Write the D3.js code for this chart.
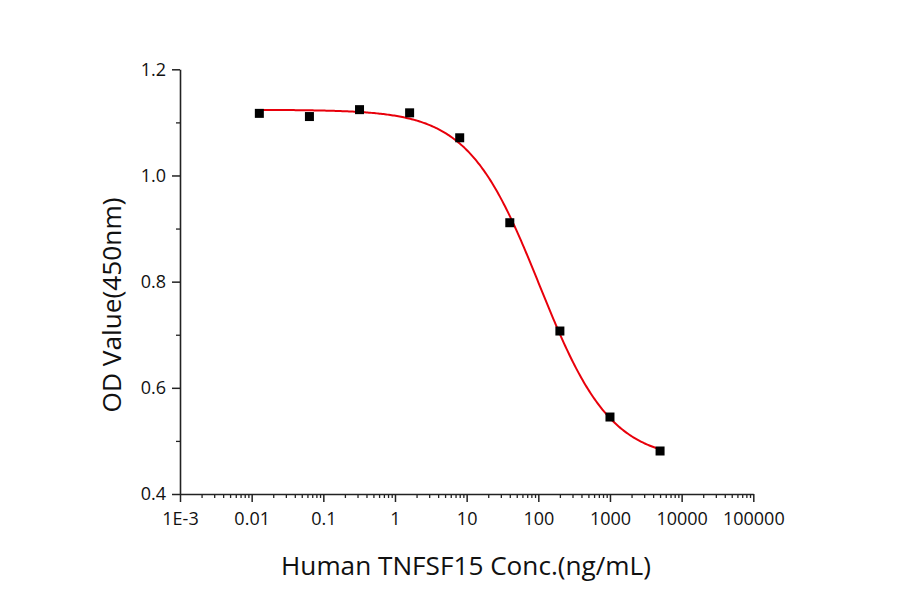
<!DOCTYPE html>
<html>
<head>
<meta charset="utf-8">
<script src="https://cdn.jsdelivr.net/npm/d3@7"></script>
<style>
  html, body { margin: 0; padding: 0; background: #fff; }
  svg { display: block; font-family: "Open Sans", sans-serif; }
</style>
</head>
<body>
<svg id="chart" width="900" height="594"></svg>
<script>
// ---- data ----
const concentrations = [0.0128, 0.064, 0.32, 1.6, 8, 40, 200, 1000, 5000];
const odValues       = [1.117, 1.111, 1.124, 1.118, 1.071, 0.911, 0.707, 0.545, 0.481];
const xMajorTicks    = [1e-3, 1e-2, 1e-1, 1, 10, 100, 1000, 10000, 100000];
const xTickLabels    = ["1E-3", "0.01", "0.1", "1", "10", "100", "1000", "10000", "100000"];
const yMajorTicks    = [0.4, 0.6, 0.8, 1.0, 1.2];
const yMinorTicks    = [0.5, 0.7, 0.9, 1.1];
const xTitle = "Human TNFSF15 Conc.(ng/mL)";
const yTitle = "OD Value(450nm)";

// ---- 4-parameter logistic fit (least squares, Nelder-Mead) ----
function model(p, x) { return p[1] + (p[0] - p[1]) / (1 + Math.pow(x / Math.pow(10, p[2]), p[3])); }
function sse(p) {
  let s = 0;
  for (let i = 0; i < concentrations.length; i++) {
    const r = model(p, concentrations[i]) - odValues[i];
    s += r * r;
  }
  return s;
}
function nelderMead(f, x0, steps, iters) {
  const n = x0.length;
  let simplex = [x0.slice()];
  for (let i = 0; i < n; i++) { const v = x0.slice(); v[i] += steps[i]; simplex.push(v); }
  let vals = simplex.map(f);
  for (let k = 0; k < iters; k++) {
    const idx = d3.range(n + 1).sort((a, b) => vals[a] - vals[b]);
    simplex = idx.map(i => simplex[i]); vals = idx.map(i => vals[i]);
    const c = d3.range(n).map(j => d3.mean(simplex.slice(0, n), v => v[j]));
    const worst = simplex[n];
    const xr = c.map((cj, j) => cj + (cj - worst[j]));
    const fr = f(xr);
    if (fr < vals[0]) {
      const xe = c.map((cj, j) => cj + 2 * (cj - worst[j]));
      const fe = f(xe);
      if (fe < fr) { simplex[n] = xe; vals[n] = fe; } else { simplex[n] = xr; vals[n] = fr; }
    } else if (fr < vals[n - 1]) {
      simplex[n] = xr; vals[n] = fr;
    } else {
      const xc = c.map((cj, j) => cj + 0.5 * (worst[j] - cj));
      const fc = f(xc);
      if (fc < vals[n]) { simplex[n] = xc; vals[n] = fc; }
      else {
        for (let i = 1; i <= n; i++) {
          simplex[i] = simplex[i].map((v, j) => simplex[0][j] + 0.5 * (v - simplex[0][j]));
          vals[i] = f(simplex[i]);
        }
      }
    }
  }
  const best = d3.minIndex(vals);
  return simplex[best];
}
const fitParams = nelderMead(sse, [1.12, 0.47, 2.0, 1.0], [0.02, 0.02, 0.2, 0.2], 3000);

// ---- layout ----
const svg = d3.select("#chart");
const x = d3.scaleLog().domain([1e-3, 1e5]).range([180, 753.3]);
const y = d3.scaleLinear().domain([0.4, 1.2]).range([494, 69.3]);
const axisColor = "#222";

// minor x ticks
const xMinor = [];
xMajorTicks.slice(0, -1).forEach(d => { for (let m = 2; m <= 9; m++) xMinor.push(d * m); });

const gx = svg.append("g").attr("transform", "translate(0,494)");
gx.call(d3.axisBottom(x).tickValues(xMinor).tickSize(4).tickSizeOuter(0).tickFormat(""));
gx.call(g => g.selectAll(".tick line").attr("stroke", axisColor).attr("stroke-width", 1.3));
const gx2 = svg.append("g").attr("transform", "translate(0,494)");
gx2.call(d3.axisBottom(x).tickValues(xMajorTicks).tickSize(8).tickSizeOuter(0).tickPadding(10)
  .tickFormat((d, i) => xTickLabels[i]));
gx2.select(".domain").attr("stroke", axisColor).attr("stroke-width", 1.6);
gx2.selectAll(".tick line").attr("stroke", axisColor).attr("stroke-width", 1.5);
gx2.selectAll(".tick text").attr("font-size", 18).attr("fill", "#111").attr("font-family", "'Open Sans', sans-serif");
gx.select(".domain").remove();

const gy = svg.append("g").attr("transform", "translate(180,0)");
gy.call(d3.axisLeft(y).tickValues(yMinorTicks).tickSize(4).tickSizeOuter(0).tickFormat(""));
gy.selectAll(".tick line").attr("stroke", axisColor).attr("stroke-width", 1.3);
gy.select(".domain").remove();
const gy2 = svg.append("g").attr("transform", "translate(180,0)");
gy2.call(d3.axisLeft(y).tickValues(yMajorTicks).tickSize(8).tickSizeOuter(0).tickPadding(6)
  .tickFormat(d3.format(".1f")));
gy2.select(".domain").attr("stroke", axisColor).attr("stroke-width", 1.6);
gy2.selectAll(".tick line").attr("stroke", axisColor).attr("stroke-width", 1.5);
gy2.selectAll(".tick text").attr("font-size", 18).attr("fill", "#111").attr("font-family", "'Open Sans', sans-serif");

// fitted curve
const curveXs = d3.range(0, 301).map(i => {
  const l0 = Math.log10(concentrations[0]), l1 = Math.log10(concentrations[concentrations.length - 1]);
  return Math.pow(10, l0 + (l1 - l0) * i / 300);
});
svg.append("path")
  .datum(curveXs)
  .attr("fill", "none")
  .attr("stroke", "#e8000b")
  .attr("stroke-width", 2)
  .attr("d", d3.line().x(d => x(d)).y(d => y(model(fitParams, d))));

// points
const sq = 9;
svg.append("g").selectAll("rect")
  .data(concentrations.map((c, i) => ({ c, v: odValues[i] })))
  .join("rect")
  .attr("x", d => x(d.c) - sq / 2)
  .attr("y", d => y(d.v) - sq / 2)
  .attr("width", sq).attr("height", sq)
  .attr("fill", "#000");

// titles
const xt = svg.append("text")
  .attr("x", 466).attr("y", 575)
  .attr("text-anchor", "middle")
  .attr("font-size", 24).attr("fill", "#111")
  .text(xTitle);
const yt = svg.append("text")
  .attr("transform", "translate(121,305) rotate(-90)")
  .attr("text-anchor", "middle")
  .attr("font-size", 24).attr("fill", "#111")
  .text(yTitle);
// scale title fonts to match the reference widths
function fitWidth(sel, target) {
  const w = sel.node().getComputedTextLength();
  sel.attr("font-size", 24 * target / w);
}
fitWidth(xt, 370);
fitWidth(yt, 215);
</script>
</body>
</html>
